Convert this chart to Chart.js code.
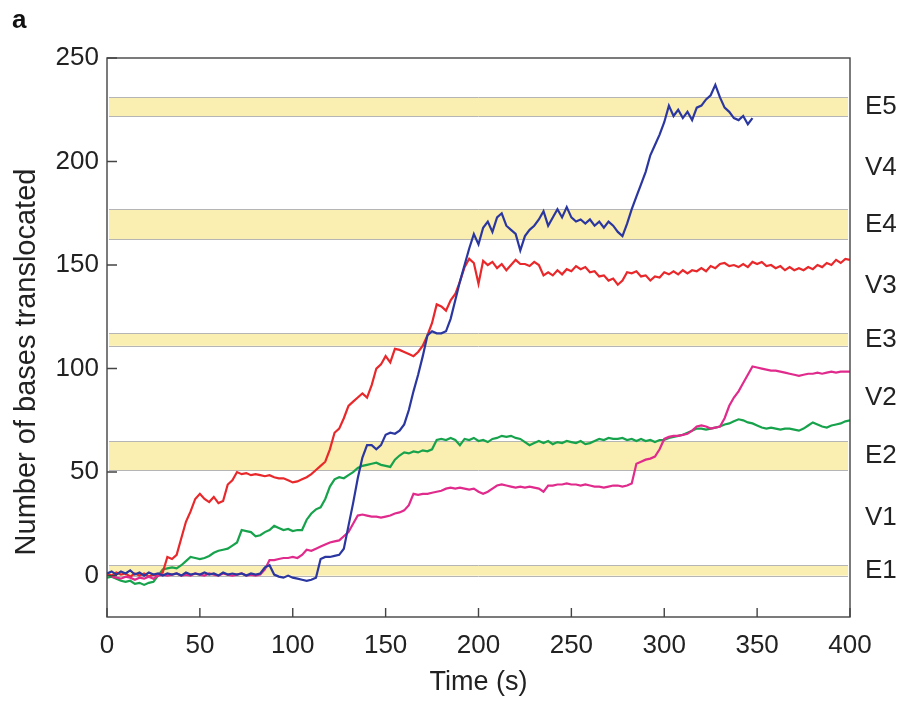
<!DOCTYPE html>
<html>
<head>
<meta charset="utf-8">
<script src="https://cdn.jsdelivr.net/npm/chart.js@4/dist/chart.umd.min.js"></script>
<style>
html,body{margin:0;padding:0;background:#fff;}
#wrap{width:902px;height:705px;position:relative;}
</style>
</head>
<body>
<div id="wrap"><canvas id="c" width="902" height="705"></canvas></div>
<script>
// ---- data ----
const panelLabel = 'a';
const xTitle = 'Time (s)';
const yTitle = 'Number of bases translocated';
const xTicks = [0, 50, 100, 150, 200, 250, 300, 350, 400];
const yTicks = [0, 50, 100, 150, 200, 250];
const yMin = -20, yMax = 250;

// yellow bands (E1..E5): lower and upper edges, bases
const bandLow  = [0, 51, 111, 162.5, 222];
const bandHigh = [5, 65, 117, 177, 231];
// right-hand labels and their positions
const sideLabels = ['E1', 'V1', 'E2', 'V2', 'E3', 'V3', 'E4', 'V4', 'E5'];
const sidePos    = [2.5, 28, 58, 86, 114, 140, 169.5, 197, 226.5];

// sample times, every 2.5 s from 0 to 400 s
const timeS = Array.from({length: 161}, (_, i) => i * 2.5);

const redTrace = [
  1, 0, 1.5, 0.5, 1, -0.5, 1, 0, 1, -0.5,
  0.5, 0, 1.5, 9, 8, 10, 18, 26, 31, 37,
  39.5, 37, 35.5, 38, 35, 36, 44, 46, 50, 49,
  49.5, 48.5, 49, 48.5, 48, 48.5, 47.5, 47, 47, 46,
  45, 45.5, 46.5, 47.5, 49, 51, 53, 55, 61, 69,
  71, 76, 82, 84, 86, 88, 86, 92, 100, 102,
  106, 103, 109.5, 109, 108, 107, 106, 108, 111, 116,
  122, 131, 130, 128, 133, 136, 142, 149, 153, 151,
  141, 152, 150, 151.5, 148.5, 150.5, 147.5, 150, 152.5, 150.5,
  150.5, 149.5, 151.5, 150, 145, 146.5, 145, 147.5, 145.5, 148,
  147, 149.5, 148, 149, 146.5, 147, 144.5, 145, 142.5, 143.5,
  140.5, 142.5, 146.5, 146, 147, 144.5, 145, 142.5, 144.5, 144,
  146.5, 145.5, 147, 145.5, 147.5, 146, 147.5, 147, 148.5, 147,
  149.5, 148.5, 150.5, 151, 149.5, 150, 149, 150.5, 149, 151.5,
  150.5, 151.5, 149.5, 150, 148.5, 149.5, 147.5, 149, 147.5, 148.5,
  147.5, 149, 148, 150, 149, 151, 150, 152.5, 151, 153,
  152.5
];

const blueTrace = [
  1, 2, 0.5, 2, 1, 2.5, 0.5, 1.5, 0, 1.5,
  0.5, 1, 0, 1, 0.5, 1, 0, 1.5, 0.5, 1,
  0.5, 1.5, 0.5, 1, 0, 1.5, 0.5, 1, 0.5, 1,
  0, 1, 0.5, 1, 4, 5, 0.5, -0.5, -1, 0,
  -1, -1.5, -2, -2.5, -2, -1, 8, 9, 9, 9.5,
  10, 13, 24, 35, 47, 57, 63, 63, 61, 63,
  68, 69, 68.5, 70, 73, 80, 89, 97, 106, 116,
  118, 117, 117, 118, 124, 133, 142, 150, 158, 165,
  160, 168, 171, 166, 173, 175, 169, 167, 165, 157,
  164, 167, 169, 172, 176, 169, 173, 177, 173, 178,
  173, 171, 172, 170, 172, 169, 171, 168, 171, 169,
  166, 164, 170, 177, 183, 189, 195, 203, 208, 213,
  219, 227, 222, 225, 221, 224, 220, 226, 227, 230,
  232, 237, 231, 226, 224, 221, 220, 222, 218, 221,
  null, null, null, null, null, null, null, null, null, null,
  null, null, null, null, null, null, null, null, null, null,
  null
];

const greenTrace = [
  -1, -0.5, -1.5, -2.5, -3, -2.5, -4, -3.5, -4.5, -3.5,
  -3, 0, 3, 3.5, 4, 3.5, 5, 7, 9, 8.5,
  8, 8.5, 9.5, 11, 12, 12.5, 13, 14.5, 16, 22,
  21.5, 21, 19, 19.5, 21, 22, 24, 23, 22, 22.5,
  21.5, 22, 22, 27, 30, 32, 33, 37, 43, 46.5,
  47.5, 47, 48.5, 50, 52, 53, 53.5, 54, 54.5, 53.5,
  53, 52.5, 56, 58, 59.5, 59, 60, 59.5, 60.5, 60,
  61, 65.5, 66, 65.5, 66.5, 65.5, 63, 66, 65.5, 66.5,
  65, 65.5, 64.5, 66, 66.5, 67.5, 67, 67.5, 66.5, 66,
  64.5, 63, 64, 65, 64, 65, 63.5, 64.5, 64, 65,
  64.5, 64, 65, 63.5, 64, 65, 66, 65.5, 66.5, 66,
  66, 66.5, 65.5, 66, 65, 66, 65, 65.5, 64.5, 65.5,
  65.5, 66.5, 67, 67.5, 68, 69, 70, 71, 71, 70.5,
  71, 71.5, 72, 73, 73.5, 74.5, 75.5, 75, 74, 73.5,
  72.5, 71.5, 71, 71.5, 71, 70.5, 71, 71, 70.5, 70,
  71, 72.5, 74, 73, 72, 71.5, 72.5, 73, 73.5, 74.5,
  75
];

const pinkTrace = [
  null, -0.5, -1, -1.5, -0.5, -1, -2, -1, -1.5, -0.5,
  -1.5, 0, 0.5, 0, 0.5, 1, 0, 0.5, 0, 1,
  0.5, 0, 1, 0.5, 0, 1, 0.5, 0, 0.5, 1,
  0, 0.5, 0, 0.5, 3, 7.5, 7.5, 8, 8.5, 8.5,
  9, 8.5, 10, 12.5, 12, 13, 14, 15, 16, 16.5,
  17, 19, 21, 25, 29, 29.5, 29, 28.5, 28.5, 28,
  28.5, 29, 30, 30.5, 31.5, 34, 39.5, 39, 39.5, 39.5,
  40, 40.5, 41, 42, 42.5, 42, 42.5, 42, 41.5, 42,
  40.5, 39.5, 40.5, 42, 43.5, 44, 43.5, 43, 42.5, 43,
  42.5, 43, 42.5, 42, 40.5, 43.5, 43.5, 44, 44, 44.5,
  44, 44, 43.5, 44, 43.5, 43, 43, 42.5, 43, 43.5,
  43.5, 43, 43.5, 44.5, 54, 55, 56, 56.5, 57.5, 61,
  66, 67, 67.5, 67.5, 68, 68.5, 70, 72, 72.5, 72,
  71, 71.5, 72, 76, 82, 86, 89, 93, 97, 101,
  100.5, 100, 99.5, 99, 99, 98.5, 98, 97.5, 97, 96.5,
  97, 97.5, 97.5, 98, 97.5, 98, 98.5, 98, 98.5, 98.5,
  98.5
];

const seriesNames  = ['blue', 'magenta', 'red', 'green'];
const seriesValues = [blueTrace, pinkTrace, redTrace, greenTrace];
const seriesColors = ['#2b37a0', '#e02a8c', '#e8282a', '#17a24c'];

// ---- chart ----
function toPoints(vals) {
  const pts = [];
  vals.forEach((v, i) => { if (v !== null) pts.push({x: timeS[i], y: v}); });
  return pts;
}

const FONT = "'Liberation Sans', Arial, Helvetica, sans-serif";
const TXT = '#222';

const decor = {
  id: 'decor',
  beforeDatasetsDraw(chart) {
    const {ctx, chartArea: ca, scales: {y}} = chart;
    ctx.save();
    bandLow.forEach((lo, i) => {
      const yt = y.getPixelForValue(bandHigh[i]);
      const yb = y.getPixelForValue(lo);
      ctx.fillStyle = '#faeeb1';
      ctx.fillRect(ca.left + 2, yt, ca.right - ca.left - 4, yb - yt);
      ctx.strokeStyle = '#b5b5b5';
      ctx.lineWidth = 1;
      ctx.beginPath();
      ctx.moveTo(ca.left + 2, Math.round(yt) + 0.5); ctx.lineTo(ca.right - 2, Math.round(yt) + 0.5);
      ctx.moveTo(ca.left + 2, Math.round(yb) + 0.5); ctx.lineTo(ca.right - 2, Math.round(yb) + 0.5);
      ctx.stroke();
    });
    ctx.restore();
  },
  afterDatasetsDraw(chart) {
    const {ctx, chartArea: ca, scales: {x, y}} = chart;
    ctx.save();
    ctx.strokeStyle = '#444';
    ctx.lineWidth = 1.4;
    ctx.strokeRect(ca.left, ca.top, ca.right - ca.left, ca.bottom - ca.top);
    ctx.beginPath();
    y.ticks.forEach(t => {
      const py = y.getPixelForValue(t.value);
      ctx.moveTo(ca.left, py); ctx.lineTo(ca.left + 10, py);
    });
    x.ticks.forEach(t => {
      const px = x.getPixelForValue(t.value);
      ctx.moveTo(px, ca.bottom); ctx.lineTo(px, ca.bottom - 9);
    });
    ctx.stroke();
    // y title
    ctx.fillStyle = TXT;
    ctx.font = '29px ' + FONT;
    ctx.textAlign = 'center';
    ctx.textBaseline = 'alphabetic';
    ctx.translate(35, 362);
    ctx.rotate(-Math.PI / 2);
    ctx.fillText(yTitle, 0, 0);
    ctx.restore();
    // panel label
    ctx.save();
    ctx.fillStyle = '#111';
    ctx.font = 'bold 26px ' + FONT;
    ctx.textAlign = 'left';
    ctx.textBaseline = 'alphabetic';
    ctx.fillText(panelLabel, 12, 28);
    ctx.restore();
  }
};

new Chart(document.getElementById('c'), {
  type: 'line',
  data: {
    datasets: seriesNames.map((n, i) => ({
      label: n,
      data: toPoints(seriesValues[i]),
      borderColor: seriesColors[i],
      backgroundColor: seriesColors[i],
      borderWidth: 2.2,
      pointRadius: 0,
      tension: 0,
      fill: false
    }))
  },
  options: {
    responsive: false,
    animation: false,
    events: [],
    layout: {padding: {top: 58, left: 0, right: 0, bottom: 0}},
    plugins: {legend: {display: false}, tooltip: {enabled: false}, title: {display: false}},
    scales: {
      x: {
        type: 'linear', min: 0, max: 400,
        afterBuildTicks: s => { s.ticks = xTicks.map(v => ({value: v})); },
        afterFit: s => { s.height = 88; },
        grid: {display: false, drawTicks: false},
        border: {display: false},
        ticks: {color: TXT, font: {family: FONT, size: 26}, padding: 13, maxRotation: 0, autoSkip: false},
        title: {display: true, text: xTitle, color: TXT, font: {family: FONT, size: 27}, padding: {top: 0, bottom: 6}}
      },
      y: {
        type: 'linear', min: yMin, max: yMax, position: 'left',
        afterBuildTicks: s => { s.ticks = yTicks.map(v => ({value: v})); },
        afterFit: s => { s.width = 107; },
        grid: {display: false, drawTicks: false},
        border: {display: false},
        ticks: {color: TXT, font: {family: FONT, size: 26}, padding: 8, autoSkip: false}
      },
      y2: {
        type: 'linear', min: yMin, max: yMax, position: 'right',
        afterBuildTicks: s => { s.ticks = sidePos.map(v => ({value: v})); },
        afterFit: s => { s.width = 52; },
        grid: {display: false, drawTicks: false},
        border: {display: false},
        ticks: {
          color: TXT, font: {family: FONT, size: 26}, padding: 15, autoSkip: false,
          callback: (v, i) => sideLabels[i]
        }
      }
    }
  },
  plugins: [decor]
});
</script>
</body>
</html>
